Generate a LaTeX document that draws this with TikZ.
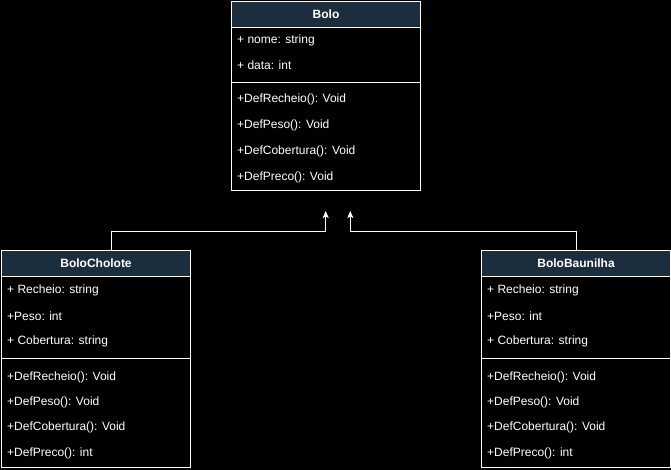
\documentclass[tikz,border=0pt]{standalone}
\usepackage{fontspec}
\setmainfont{Liberation Sans}
\usetikzlibrary{arrows.meta}

\definecolor{headBlue}{RGB}{28,46,62}

\begin{document}
\begin{tikzpicture}[x=1pt,y=-1pt]

\def\boxwidth{189pt}

\tikzstyle{classHead}=[rectangle,draw=white,fill=headBlue,line width=1pt,minimum width=\boxwidth,minimum height=26pt,inner sep=0pt,anchor=north west,text=white,font=\fontsize{12}{14}\selectfont\bfseries]
\tikzstyle{classPart}=[rectangle,draw=white,line width=1pt,minimum width=\boxwidth,inner sep=0pt,anchor=north west]
\tikzstyle{member}=[anchor=west,inner sep=0pt,text=white,font=\fontsize{12}{14}\selectfont]
\tikzstyle{inherit}=[draw=white,line width=1pt,-{Stealth[length=7pt,width=6pt,inset=1.5pt]}]

%background
\fill[black] (0,0) rectangle (671,470);
\useasboundingbox (0,0) rectangle (671,470);

%Bolo
\node[classPart,minimum height=55pt] (boloAttr) at (231,27) {};
\node[classPart,minimum height=108pt] (boloMeth) at (231,82) {};
\node[classHead] (bolo) at (231,1) {Bolo};
\node[member] (boloNome) at (237,40) {+ nome: string};
\node[member] (boloData) at (237,65) {+ data: int};
\node[member] (boloRecheio) at (237,99) {+DefRecheio(): Void};
\node[member] (boloPeso) at (237,125) {+DefPeso(): Void};
\node[member] (boloCobertura) at (237,151) {+DefCobertura(): Void};
\node[member] (boloPreco) at (237,177) {+DefPreco(): Void};

%BoloCholote
\node[classPart,minimum height=82pt] (cholAttr) at (1,276) {};
\node[classPart,minimum height=109pt] (cholMeth) at (1,358) {};
\node[classHead] (chol) at (1,250) {BoloCholote};
\node[member] (cholRecheio) at (7,290) {+ Recheio: string};
\node[member] (cholPeso) at (7,316) {+Peso: int};
\node[member] (cholCobertura) at (7,341) {+ Cobertura: string};
\node[member] (cholDefRecheio) at (7,377) {+DefRecheio(): Void};
\node[member] (cholDefPeso) at (7,402) {+DefPeso(): Void};
\node[member] (cholDefCobertura) at (7,427) {+DefCobertura(): Void};
\node[member] (cholDefPreco) at (7,453) {+DefPreco(): int};

%BoloBaunilha
\node[classPart,minimum height=82pt] (baunAttr) at (481,276) {};
\node[classPart,minimum height=109pt] (baunMeth) at (481,358) {};
\node[classHead] (baun) at (481,250) {BoloBaunilha};
\node[member] (baunRecheio) at (487,290) {+ Recheio: string};
\node[member] (baunPeso) at (487,316) {+Peso: int};
\node[member] (baunCobertura) at (487,341) {+ Cobertura: string};
\node[member] (baunDefRecheio) at (487,377) {+DefRecheio(): Void};
\node[member] (baunDefPeso) at (487,402) {+DefPeso(): Void};
\node[member] (baunDefCobertura) at (487,427) {+DefCobertura(): Void};
\node[member] (baunDefPreco) at (487,453) {+DefPreco(): int};

%inheritance
\coordinate (tipL) at (325.7,211);
\coordinate (bendL) at (325.7,231);
\coordinate (tipR) at (350.3,211);
\coordinate (bendR) at (350.3,231);

\draw[inherit] ([xshift=15.5pt]chol.north) |- (bendL) -- (tipL);
\draw[inherit] (baun.north) |- (bendR) -- (tipR);

\end{tikzpicture}
\end{document}
